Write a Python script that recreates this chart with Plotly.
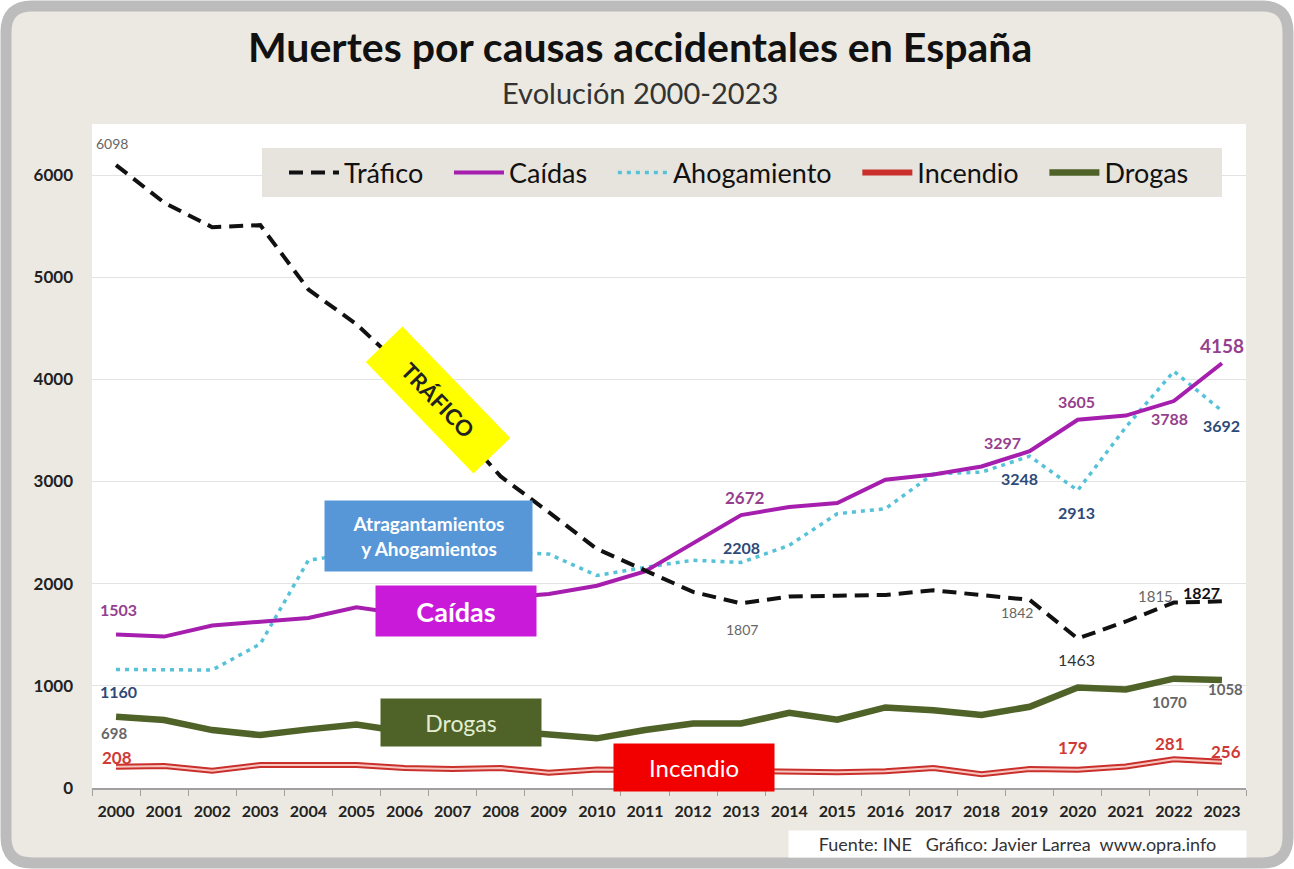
import plotly.graph_objects as go

# data (INE, deaths per year)
years = [str(y) for y in range(2000, 2024)]
trafico = [6098, 5730, 5490, 5510, 4880, 4540, 4100, 3580, 3050, 2700, 2340, 2130,
           1920, 1807, 1875, 1882, 1890, 1935, 1890, 1842, 1463, 1630, 1815, 1827]
caidas = [1503, 1482, 1590, 1625, 1665, 1770, 1700, 1790, 1860, 1900, 1980, 2120,
          2400, 2672, 2750, 2790, 3017, 3069, 3147, 3297, 3605, 3646, 3788, 4158]
ahogamiento = [1160, 1160, 1155, 1410, 2230, 2300, 2320, 2330, 2310, 2290, 2080, 2160,
               2230, 2208, 2375, 2685, 2734, 3076, 3092, 3248, 2913, 3532, 4079, 3692]
incendio = [208, 215, 170, 225, 225, 225, 195, 185, 195, 150, 180, 175,
            165, 160, 155, 155, 165, 195, 135, 185, 179, 210, 281, 256]
drogas = [698, 665, 567, 518, 574, 622, 550, 545, 560, 530, 486, 567,
          632, 632, 736, 669, 789, 762, 714, 795, 984, 964, 1070, 1058]

FONT = "Lato"
W, H = 1294, 869
L, R, T, B = 92, 48, 124, 81
PW, PH = W - L - R, H - T - B
PAD = "\u00a0\u00a0\u00a0"   # extra room between legend entries


def paper(px, py):
    return (px - L) / PW, (H - B - py) / PH


def rounded_path(x0, y0, x1, y1, r):
    pts = [("M", [(x0 + r, y0)]), ("L", [(x1 - r, y0)]), ("Q", [(x1, y0), (x1, y0 + r)]),
           ("L", [(x1, y1 - r)]), ("Q", [(x1, y1), (x1 - r, y1)]),
           ("L", [(x0 + r, y1)]), ("Q", [(x0, y1), (x0, y1 - r)]),
           ("L", [(x0, y0 + r)]), ("Q", [(x0, y0), (x0 + r, y0)])]
    s = ""
    for cmd, ps in pts:
        s += cmd + " ".join("%.5f,%.5f" % paper(px, py) for px, py in ps) + " "
    return s + "Z"


fig = go.Figure()

fig.add_trace(go.Scatter(x=years, y=incendio, name="Incendio" + PAD, mode="lines",
                         line=dict(color="#c9302c", width=6), legendrank=4,
                         legendgroup="inc"))
fig.add_trace(go.Scatter(x=years, y=incendio, name="Incendio", mode="lines",
                         line=dict(color="#f7c4be", width=2), showlegend=False,
                         legendgroup="inc", hoverinfo="skip"))
fig.add_trace(go.Scatter(x=years, y=drogas, name="Drogas", mode="lines",
                         line=dict(color="#4f6228", width=6.5), legendrank=5))
fig.add_trace(go.Scatter(x=years, y=ahogamiento, name="Ahogamiento" + PAD, mode="lines",
                         line=dict(color="#55c2d8", width=3.5, dash="4px,5px"), legendrank=3))
fig.add_trace(go.Scatter(x=years, y=caidas, name="Caídas" + PAD, mode="lines",
                         line=dict(color="#a51eae", width=4), legendrank=2))
fig.add_trace(go.Scatter(x=years, y=trafico, name="Tráfico" + PAD, mode="lines",
                         line=dict(color="#111111", width=4, dash="14px,8px"), legendrank=1))

# value labels: (series, year, xshift, yshift, colour, size, bold)
MAUVE, NAVY, GREY, RED = "#963f8e", "#2e4a78", "#666666", "#d03a36"
series = {"t": trafico, "c": caidas, "a": ahogamiento, "i": incendio, "d": drogas}
labels = [
    ("t", "2000", -4, 22, GREY, 14, False),
    ("c", "2000", 2, 25, MAUVE, 16, True),
    ("a", "2000", 2, -22, NAVY, 16, True),
    ("d", "2000", -2, -16, GREY, 15, True),
    ("i", "2000", 1, 9, RED, 17, True),
    ("c", "2013", 4, 18, MAUVE, 17, True),
    ("a", "2013", 0, 15, NAVY, 16, True),
    ("t", "2013", 1, -26, GREY, 14, False),
    ("c", "2019", -27, 9, MAUVE, 16, True),
    ("a", "2019", -10, -22, NAVY, 16, True),
    ("c", "2020", -1, 18, MAUVE, 16, True),
    ("a", "2020", -1, -22, NAVY, 16, True),
    ("t", "2019", -13, -13, GREY, 14, False),
    ("t", "2020", -1, -21, "#333333", 16, False),
    ("c", "2022", -4, -17, MAUVE, 16, True),
    ("a", "2023", 0, -15, NAVY, 16, True),
    ("c", "2023", 0, 18, MAUVE, 19, True),
    ("t", "2022", -18, 7, GREY, 15, False),
    ("t", "2023", -20, 9, "#111111", 16, True),
    ("d", "2022", -4, -23, GREY, 15, True),
    ("d", "2023", 4, -9, GREY, 15, True),
    ("i", "2020", -5, 22, RED, 17, True),
    ("i", "2022", -4, 16, RED, 17, True),
    ("i", "2023", 4, 10, RED, 17, True),
]
for key, yr, dx, dy, col, size, bold in labels:
    idx = years.index(yr)
    val = series[key][idx]
    fig.add_annotation(x=idx, y=val, xref="x", yref="y", text=str(val), showarrow=False,
                       xshift=dx, yshift=dy, xanchor="center", yanchor="middle",
                       font=dict(family=FONT, size=size, color=col,
                                 weight="bold" if bold else "normal"))

# coloured name boxes
boxes = [
    ("TRÁFICO", 438, 400, 152, 48, "#ffff00", "#222222", 22, "bold", 46),
    ("Atragantamientos<br>y Ahogamientos", 428.5, 536, 205, 68, "#5797d8", "white", 19, "bold", 0),
    ("Caídas", 456, 611, 158, 48, "#c81ad8", "white", 27, "bold", 0),
    ("Drogas", 461, 722.5, 158, 45, "#4f6228", "#e3eed2", 23, "normal", 0),
    ("Incendio", 694, 767.5, 158, 45, "#f20000", "white", 24, "normal", 0),
]
for txt, cx, cy, bw, bh, bg, fc, fs, fw, ang in boxes:
    px_, py_ = paper(cx, cy)
    fig.add_annotation(x=px_, y=py_, xref="paper", yref="paper", text=txt, showarrow=False,
                       width=bw, height=bh, bgcolor=bg, textangle=ang,
                       xanchor="center", yanchor="middle",
                       font=dict(family=FONT, size=fs, color=fc, weight=fw))

# titles and footer
tx, ty = paper(640, 46)
fig.add_annotation(x=tx, y=ty, xref="paper", yref="paper", showarrow=False,
                   xanchor="center", yanchor="middle",
                   text="Muertes por causas accidentales en España",
                   font=dict(family=FONT, size=41, color="#111111", weight="bold"))
sx, sy = paper(640, 92)
fig.add_annotation(x=sx, y=sy, xref="paper", yref="paper", showarrow=False,
                   xanchor="center", yanchor="middle",
                   text="Evolución 2000-2023",
                   font=dict(family=FONT, size=29, color="#333333"))
fx, fy = paper(1017, 844)
fig.add_annotation(x=fx, y=fy, xref="paper", yref="paper", showarrow=False,
                   xanchor="center", yanchor="middle",
                   text="Fuente: INE   Gráfico: Javier Larrea  www.opra.info",
                   width=455, height=24, bgcolor="white",
                   font=dict(family=FONT, size=18, color="#333333"))

# frame, white plot area and legend box
fig.add_shape(type="path", xref="paper", yref="paper", layer="below",
              path=rounded_path(6, 6, 1288, 863, 26),
              fillcolor="#ebe9e1", line=dict(color="#bcbcbc", width=11))
fig.add_shape(type="rect", xref="paper", yref="paper", layer="below",
              x0=0, x1=1, y0=0, y1=1, fillcolor="white", line=dict(width=0))
bx0, by0 = paper(262, 148)
bx1, by1 = paper(1222, 197)
fig.add_shape(type="rect", xref="paper", yref="paper", layer="below",
              x0=bx0, x1=bx1, y0=by1, y1=by0, fillcolor="#e6e4dc", line=dict(width=0))

lx, ly = paper(284, 173)
fig.update_layout(
    width=W, height=H,
    margin=dict(l=L, r=R, t=T, b=B),
    paper_bgcolor="white",
    plot_bgcolor="white",
    font=dict(family=FONT, color="#222222"),
    showlegend=True,
    legend=dict(orientation="h", x=lx, y=ly, xanchor="left", yanchor="middle",
                bgcolor="rgba(0,0,0,0)", font=dict(family=FONT, size=27, color="#111111"),
                itemwidth=50),
    xaxis=dict(type="category", range=[-0.5, 23.5], showgrid=False, showline=True,
               linecolor="#a0a0a0", linewidth=1.5, ticks="outside", tickson="boundaries",
               ticklen=6, tickcolor="#a0a0a0", tickangle=0, ticklabelstandoff=8,
               tickfont=dict(family=FONT, size=16, color="#222222", weight="bold"),
               fixedrange=True),
    yaxis=dict(range=[0, 6500], dtick=1000, showgrid=True, gridcolor="#e3e3e3",
               zeroline=False, showline=False, ticks="", ticklabelstandoff=18,
               tickfont=dict(family=FONT, size=17, color="#222222", weight="bold"),
               fixedrange=True),
)

fig.write_html("out.html", config={"displayModeBar": False},
               post_script="document.body.style.margin='0';")
